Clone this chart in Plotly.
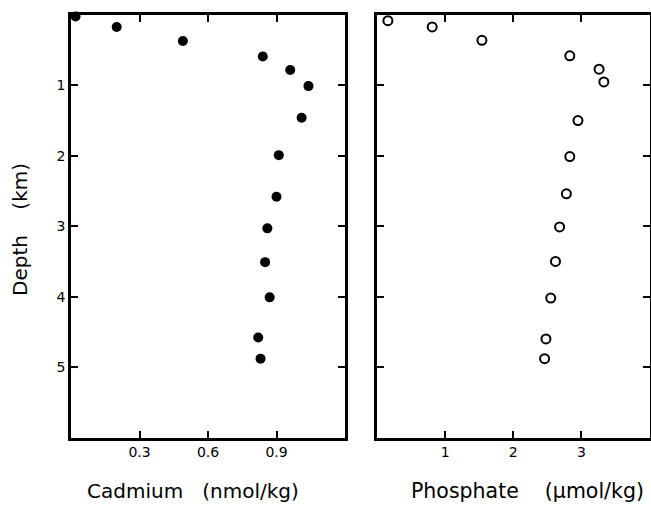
import plotly.graph_objects as go

# Depth profiles (km)
depth_cd = [0.02, 0.17, 0.37, 0.59, 0.78, 1.01, 1.46, 1.99, 2.58, 3.03, 3.51, 4.01, 4.58, 4.88]
cadmium = [0.02, 0.20, 0.49, 0.84, 0.96, 1.04, 1.01, 0.91, 0.90, 0.86, 0.85, 0.87, 0.82, 0.83]
depth_po4 = [0.08, 0.17, 0.36, 0.58, 0.77, 0.95, 1.50, 2.01, 2.54, 3.01, 3.50, 4.02, 4.60, 4.88]
phosphate = [0.16, 0.81, 1.54, 2.83, 3.26, 3.33, 2.95, 2.83, 2.78, 2.68, 2.62, 2.55, 2.48, 2.46]

cd_ticks = [0.3, 0.6, 0.9]
cd_ticktext = ["0.3", "0.6", "0.9"]
po4_ticks = [1, 2, 3]
depth_ticks = [1, 2, 3, 4, 5]

FONT = "DejaVu Sans"

fig = go.Figure()
fig.add_trace(go.Scatter(
    x=cadmium, y=depth_cd, mode="markers", xaxis="x", yaxis="y",
    marker=dict(symbol="circle", size=10, color="black"),
    cliponaxis=False, showlegend=False))
fig.add_trace(go.Scatter(
    x=phosphate, y=depth_po4, mode="markers", xaxis="x2", yaxis="y2",
    marker=dict(symbol="circle-open", size=9, color="black", line=dict(width=2, color="black")),
    cliponaxis=False, showlegend=False))

W, H = 651, 507
axis_common = dict(showgrid=False, zeroline=False, showline=True, linecolor="black",
                   linewidth=2.5, mirror="ticks", ticks="inside", ticklen=7, tickwidth=1.5,
                   tickcolor="black", tickfont=dict(family=FONT, size=14, color="black"))

ydom = [1 - 437.5 / H, 1 - 15 / H]
fig.update_layout(
    width=W, height=H, margin=dict(l=0, r=0, t=0, b=0),
    paper_bgcolor="white", plot_bgcolor="white",
    xaxis=dict(domain=[71 / W, 345 / W], range=[0, 1.2], tickvals=cd_ticks,
               ticktext=cd_ticktext, anchor="y", **axis_common),
    yaxis=dict(domain=ydom, range=[6, 0], tickvals=depth_ticks, anchor="x", **axis_common),
    xaxis2=dict(domain=[377 / W, 649.5 / W], range=[0, 4], tickvals=po4_ticks,
                anchor="y2", **axis_common),
    yaxis2=dict(domain=ydom, range=[6, 0], tickvals=depth_ticks, anchor="x2",
                showticklabels=False, **{k: v for k, v in axis_common.items() if k != "tickfont"}),
)

fig.add_annotation(text="Cadmium\u00a0\u00a0\u00a0(nmol/kg)", xref="paper", yref="paper",
                   x=193 / W, y=1 - 491 / H, xanchor="center", yanchor="middle", showarrow=False,
                   font=dict(family=FONT, size=20, color="black"))
fig.add_annotation(text="Phosphate\u00a0\u00a0\u00a0\u00a0(\u03bcmol/kg)", xref="paper", yref="paper",
                   x=527.5 / W, y=1 - 491 / H, xanchor="center", yanchor="middle", showarrow=False,
                   font=dict(family=FONT, size=20.5, color="black"))
fig.add_annotation(text="Depth\u00a0\u00a0\u00a0\u00a0(km)", xref="paper", yref="paper",
                   x=20 / W, y=1 - 230 / H, xanchor="center", yanchor="middle", showarrow=False,
                   textangle=-90, font=dict(family=FONT, size=20, color="black"))

fig.write_html("out.html")
